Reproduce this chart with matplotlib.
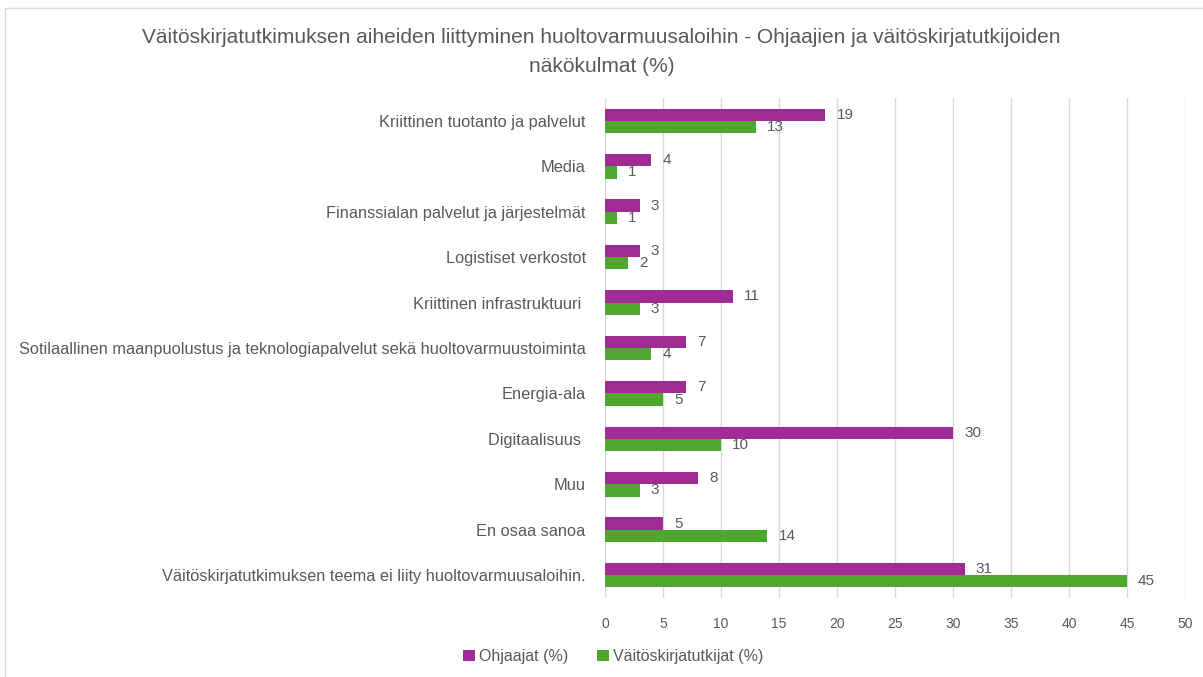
import numpy as np
import matplotlib.pyplot as plt
from matplotlib.patches import Rectangle

''' --------- Data --------- '''
categories = [
    'Kriittinen tuotanto ja palvelut',
    'Media',
    'Finanssialan palvelut ja järjestelmät',
    'Logistiset verkostot',
    'Kriittinen infrastruktuuri ',
    'Sotilaallinen maanpuolustus ja teknologiapalvelut sekä huoltovarmuustoiminta',
    'Energia-ala',
    'Digitaalisuus ',
    'Muu',
    'En osaa sanoa',
    'Väitöskirjatutkimuksen teema ei liity huoltovarmuusaloihin.',
]
ohjaajat = [19, 4, 3, 3, 11, 7, 7, 30, 8, 5, 31]
tutkijat = [13, 1, 1, 2, 3, 4, 5, 10, 3, 14, 45]
xticks = list(range(0, 51, 5))

title = ('Väitöskirjatutkimuksen aiheiden liittyminen huoltovarmuusaloihin - '
         'Ohjaajien ja väitöskirjatutkijoiden\nnäkökulmat (%)')

purple = '#A02B93'
green = '#4EA72E'
txt = '#595959'

plt.rcParams['font.family'] = ['Liberation Sans', 'DejaVu Sans']

''' --------- Plot --------- '''
fig = plt.figure(figsize=(12.03, 6.77), dpi=100)
ax = fig.add_axes([0.503, 0.117, 0.482, 0.738])

y = np.arange(len(categories))
h = 0.27
ax.barh(y - h/2, ohjaajat, height=h, color=purple, label='Ohjaajat (%)')
ax.barh(y + h/2, tutkijat, height=h, color=green, label='Väitöskirjatutkijat (%)')

# value labels at the end of the bars
for yi, v in zip(y, ohjaajat):
    ax.text(v + 0.95, yi - h/2, str(v), va='center', ha='left', fontsize=11, color=txt)
for yi, v in zip(y, tutkijat):
    ax.text(v + 0.95, yi + h/2, str(v), va='center', ha='left', fontsize=11, color=txt)

ax.set_ylim(len(categories) - 0.5, -0.5)
ax.set_xlim(0, 50)
ax.set_yticks(y)
ax.set_yticklabels(categories, fontsize=11.8, color=txt)
ax.set_xticks(xticks)
ax.set_xticklabels([str(t) for t in xticks], fontsize=10, color=txt)
ax.tick_params(axis='y', length=0, pad=14)
ax.tick_params(axis='x', length=0, pad=14)
ax.grid(axis='x', color='#D9D9D9', linewidth=1)
ax.set_axisbelow(True)
for s in ax.spines.values():
    s.set_visible(False)

fig.text(0.5, 0.958, title, ha='center', va='top', fontsize=15, color=txt,
         linespacing=1.62)

fig.legend(loc='center', bbox_to_anchor=(0.51, 0.03), ncol=2, frameon=False,
           fontsize=11.5, labelcolor=txt, handlelength=0.7, handleheight=0.7,
           handletextpad=0.3, columnspacing=1.8)

fig.patches.append(Rectangle((0.004, -0.01), 1.0, 0.998, transform=fig.transFigure,
                             fill=False, edgecolor='#D9D9D9', linewidth=1))

fig.savefig('out.png', dpi=100)
